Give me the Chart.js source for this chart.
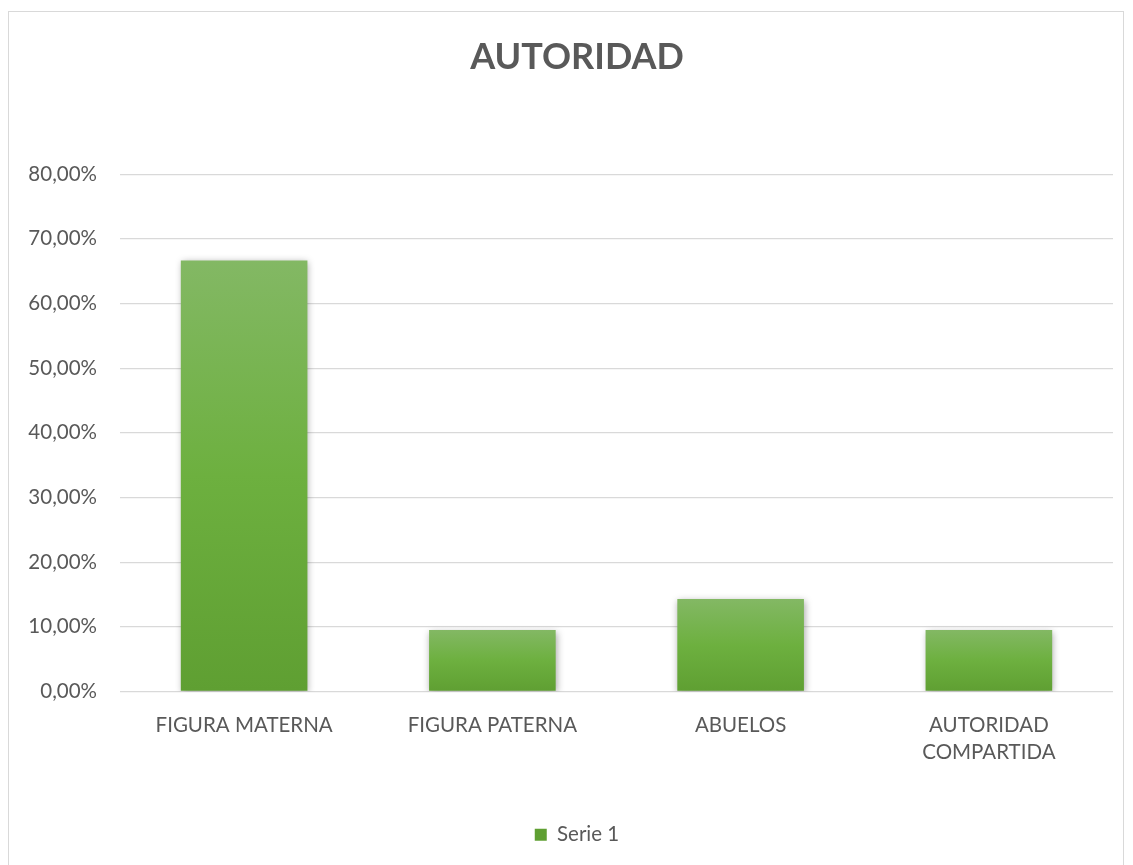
<!DOCTYPE html>
<html>
<head>
<meta charset="utf-8">
<script src="https://cdn.jsdelivr.net/npm/chart.js@4"></script>
<style>
  html, body { margin: 0; padding: 0; background: #fff; }
  #marco { position: absolute; left: 8px; top: 11px; width: 1116px; height: 870px; border: 1px solid #d9d9d9; box-sizing: border-box; }
  #caja { position: absolute; left: 0; top: 0; width: 1133px; height: 865px; }
</style>
</head>
<body>
<div id="marco"></div>
<div id="caja"><canvas id="grafico"></canvas></div>
<script>
// datos del grafico
const categorias = ["FIGURA MATERNA", "FIGURA PATERNA", "ABUELOS", ["AUTORIDAD", "COMPARTIDA"]];
const serie1 = [66.67, 9.52, 14.29, 9.52];
const ticksY = [0, 10, 20, 30, 40, 50, 60, 70, 80];

const gris = "#595959";
const fuente = "Lato, 'Open Sans', sans-serif";

// degradado por barra: claro arriba, oscuro abajo
function colorBarra(ctx) {
    const chart = ctx.chart;
    if (ctx.dataIndex === undefined || !chart.chartArea) return "#6aad3d";
    const y = chart.scales.y;
    const top = y.getPixelForValue(ctx.dataset.data[ctx.dataIndex]);
    const base = y.getPixelForValue(0);
    const g = chart.ctx.createLinearGradient(0, top, 0, base);
    g.addColorStop(0, "#83b864");
    g.addColorStop(0.5, "#6db03f");
    g.addColorStop(1, "#5f9f32");
    return g;
}

// sombra suave detras de las barras
const sombra = {
    id: "sombra",
    beforeDatasetsDraw(chart) {
        const c = chart.ctx;
        c.save();
        c.shadowColor = "rgba(0,0,0,0.35)";
        c.shadowBlur = 7;
        c.shadowOffsetX = 1;
        c.shadowOffsetY = 2;
    },
    afterDatasetsDraw(chart) {
        chart.ctx.restore();
    }
};

new Chart(document.getElementById("grafico"), {
    type: "bar",
    data: {
        labels: categorias,
        datasets: [{
            label: "Serie 1",
            data: serie1,
            backgroundColor: colorBarra,
            borderWidth: 0,
            categoryPercentage: 1,
            barPercentage: 0.51
        }]
    },
    options: {
        responsive: true,
        maintainAspectRatio: false,
        animation: false,
        layout: { padding: { left: 41, right: 20, top: 36, bottom: 10 } },
        plugins: {
            title: {
                display: true,
                text: "AUTORIDAD",
                color: gris,
                font: { family: fuente, size: 36, weight: "bold" },
                padding: { top: 0, bottom: 95 }
            },
            legend: {
                position: "bottom",
                labels: {
                    color: gris,
                    font: { family: fuente, size: 20.5 },
                    boxWidth: 12,
                    boxHeight: 12,
                    padding: 8
                }
            },
            tooltip: { enabled: false }
        },
        scales: {
            x: {
                grid: { display: false },
                border: { display: false },
                ticks: { color: gris, font: { family: fuente, size: 20.5, lineHeight: 1.3 }, padding: 13, maxRotation: 0 },
                afterFit(s) { s.height = 125; }
            },
            y: {
                min: 0,
                max: 80,
                afterBuildTicks(s) { s.ticks = ticksY.map(v => ({ value: v })); },
                grid: { color: "#d9d9d9", lineWidth: 1.3, drawTicks: false },
                border: { display: false },
                ticks: {
                    color: gris,
                    font: { family: fuente, size: 20.5 },
                    padding: 23,
                    callback: v => v.toFixed(2).replace(".", ",") + "%"
                },
                afterFit(s) {
                    s.width = 79;
                    // las etiquetas sobresalen a la izquierda, no recortar
                    s._computeLabelArea = () => undefined;
                }
            }
        }
    },
    plugins: [sombra]
});
</script>
</body>
</html>
